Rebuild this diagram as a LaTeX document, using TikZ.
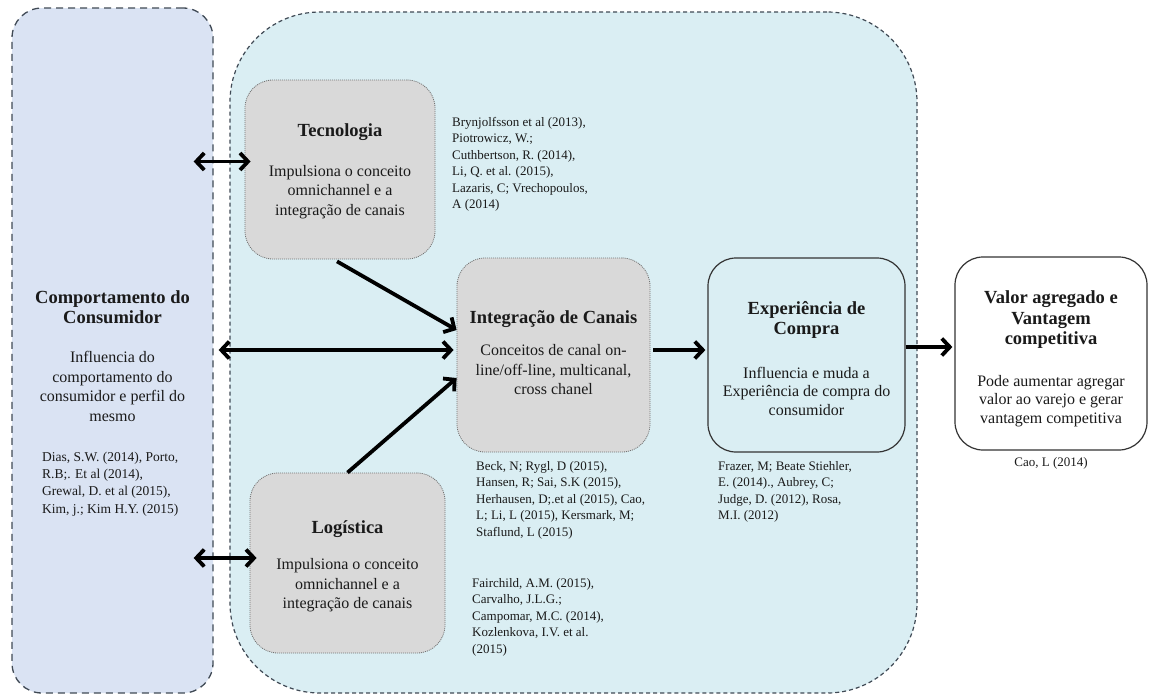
\documentclass[tikz,border=0pt]{standalone}
\usepackage{fontspec}
\setmainfont{Liberation Serif}
\usetikzlibrary{arrows.meta,calc}
\definecolor{leftblue}{HTML}{DAE3F3}
\definecolor{contblue}{HTML}{DAEEF3}
\definecolor{boxgray}{HTML}{D9D9D9}
\definecolor{dashcol}{HTML}{404A55}
\definecolor{txt}{HTML}{1A1A1A}
\tikzset{
  lbox/.style={draw=dashcol, fill=leftblue, line width=1.3pt, dash pattern=on 7pt off 5pt, rounded corners=30pt, minimum width=#1},
  contbox/.style={draw=dashcol, fill=contblue, line width=1.2pt, dash pattern=on 4pt off 3pt, rounded corners=90pt},
  graybox/.style={draw=black!55, fill=boxgray, line width=0.8pt, dash pattern=on 1pt off 1pt, rounded corners=28pt},
  expbox/.style={draw=black!80, fill=contblue, line width=1.2pt, rounded corners=28pt},
  valbox/.style={draw=black!80, fill=white, line width=1.2pt, rounded corners=28pt},
  ttl/.style={font=\fontsize{18.5}{20.5}\selectfont\bfseries, text=txt, align=center, inner sep=0pt},
  body/.style={font=\fontsize{16}{19.5}\selectfont, text=txt, align=center, inner sep=0pt},
  bodyb/.style={font=\fontsize{16}{18.5}\selectfont, text=txt, align=center, inner sep=0pt},
  cit/.style={font=\fontsize{13}{16.5}\selectfont, text=txt, align=left, inner sep=0pt, anchor=north west},
  citl/.style={cit, font=\fontsize{13.5}{17.2}\selectfont},
  tipb/.tip={Straight Barb[length=8pt,width=17pt]},
  arr/.style={line width=3.8pt, -tipb},
  darr/.style={line width=3.8pt, tipb-tipb},
}
\begin{document}
\begin{tikzpicture}[x=1pt,y=-1pt]
\useasboundingbox (0,0) rectangle (1149,697);
% containers
\node[lbox=201pt, minimum height=685pt, inner sep=0pt] (lb) at (112.5,350.5) {};
\node[contbox, minimum width=687pt, minimum height=681pt, inner sep=0pt] (cont) at (573.5,352.5) {};
% boxes
\node[graybox, minimum width=190pt, minimum height=179pt, inner sep=0pt] (tec) at (340,169.5) {};
\node[graybox, minimum width=193pt, minimum height=194pt, inner sep=0pt] (int) at (553.5,355) {};
\node[graybox, minimum width=195pt, minimum height=180pt, inner sep=0pt] (log) at (347.5,563) {};
\node[expbox, minimum width=197pt, minimum height=194pt, inner sep=0pt] (exp) at (806.5,355) {};
\node[valbox, minimum width=192pt, minimum height=193pt, inner sep=0pt] (val) at (1051,353.5) {};
% texts
\node[ttl] (lbT) at (112.5,307) {Comportamento do\\Consumidor};
\node[body] (lbB) at (112.5,386.5) {Influencia do\\comportamento do\\consumidor e perfil do\\mesmo};
\node[citl] (lbC) at (42,452) {Dias, S.W. (2014), Porto,\\R.B;. Et al (2014),\\Grewal, D. et al (2015),\\Kim, j.; Kim H.Y. (2015)};
\node[ttl] (tecT) at (340,132) {Tecnologia};
\node[body] (tecB) at (340,192) {Impulsiona o conceito\\omnichannel e a\\integração de canais};
\node[cit] (tecC) at (452,117) {Brynjolfsson et al (2013),\\Piotrowicz, W.;\\Cuthbertson, R. (2014),\\Li, Q. et al. (2015),\\Lazaris, C; Vrechopoulos,\\A (2014)};
\node[ttl] (intT) at (553.5,319) {Integração de Canais};
\node[body] (intB) at (553.5,370) {Conceitos de canal on-\\line/off-line, multicanal,\\cross chanel};
\node[cit] (intC) at (476,461) {Beck, N; Rygl, D (2015),\\Hansen, R; Sai, S.K (2015),\\Herhausen, D;.et al (2015), Cao,\\L; Li, L (2015), Kersmark, M;\\Staflund, L (2015)};
\node[ttl] (logT) at (347.5,529) {Logística};
\node[body] (logB) at (347.5,585.5) {Impulsiona o conceito\\omnichannel e a\\integração de canais};
\node[cit] (logC) at (472,578) {Fairchild, A.M. (2015),\\Carvalho, J.L.G.;\\Campomar, M.C. (2014),\\Kozlenkova, I.V. et al.\\(2015)};
\node[ttl] (expT) at (806.5,320) {Experiência de\\Compra};
\node[bodyb] (expB) at (806.5,391) {Influencia e muda a\\Experiência de compra do\\consumidor};
\node[cit] (expC) at (718,461) {Frazer, M; Beate Stiehler,\\E. (2014)., Aubrey, C;\\Judge, D. (2012), Rosa,\\M.I. (2012)};
\node[ttl] (valT) at (1051,320) {Valor agregado e\\Vantagem\\competitiva};
\node[bodyb] (valB) at (1051,401) {Pode aumentar agregar\\valor ao varejo e gerar\\vantagem competitiva};
\node[cit, anchor=center, align=center] (valC) at (1051,463) {Cao, L (2014)};
% connectors
\draw[darr] ($(lb.east|-tec.west)+(-20,-8)$) -- ($(tec.west)+(6,-8)$);
\draw[darr] ($(lb.east|-int.west)+(5,-5)$) -- ($(int.west)+(-3,-5)$);
\draw[darr] ($(lb.east|-log.west)+(-20,-5)$) -- ($(log.west)+(7,-5)$);
\draw[arr] ($(tec.south)+(-3,2)$) -- ($(int.west)+(0,-25)$);
\draw[arr] (log.north) -- ($(int.west)+(0,23)$);
\draw[arr] ($(int.east)+(3,-5)$) -- ($(exp.west)+(-2,-5)$);
\draw[arr] ($(exp.east)+(0,-8)$) -- ($(val.west)+(-2,-6.5)$);
\end{tikzpicture}
\end{document}
